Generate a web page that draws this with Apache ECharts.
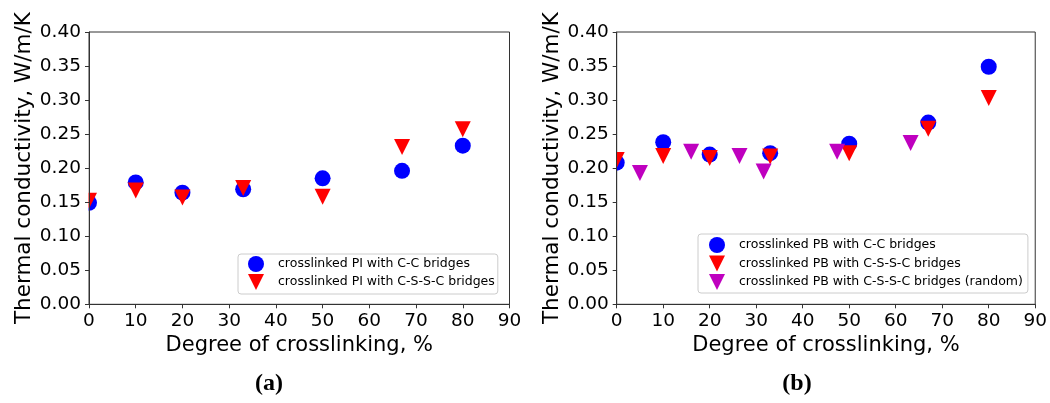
<!DOCTYPE html>
<html>
<head>
<meta charset="utf-8">
<script src="https://cdn.jsdelivr.net/npm/echarts@6/dist/echarts.min.js"></script>
<style>
html,body{margin:0;padding:0;background:#fff;}
#c{width:1050px;height:403px;}
</style>
</head>
<body>
<div id="c"></div>
<script>
// ---- data ----
const xTicks = [0, 10, 20, 30, 40, 50, 60, 70, 80, 90];
const yTicks = [0, 0.05, 0.10, 0.15, 0.20, 0.25, 0.30, 0.35, 0.40];

const piCC_x   = [0, 10, 20, 33, 50, 67, 80];
const piCC_y   = [0.149, 0.179, 0.164, 0.169, 0.185, 0.196, 0.233];
const piCSSC_x = [0, 10, 20, 33, 50, 67, 80];
const piCSSC_y = [0.152, 0.167, 0.157, 0.171, 0.158, 0.231, 0.257];

const pbCC_x   = [0, 10, 20, 33, 50, 67, 80];
const pbCC_y   = [0.208, 0.238, 0.220, 0.222, 0.236, 0.267, 0.349];
const pbCSSC_x = [0, 10, 20, 33, 50, 67, 80];
const pbCSSC_y = [0.212, 0.218, 0.215, 0.217, 0.222, 0.258, 0.303];
const pbRand_x = [5, 16, 26.4, 31.6, 47.4, 63.2];
const pbRand_y = [0.193, 0.224, 0.218, 0.195, 0.224, 0.237];

const names = {
  piCC: 'crosslinked PI with C-C bridges',
  piCSSC: 'crosslinked PI with C-S-S-C bridges',
  pbCC: 'crosslinked PB with C-C bridges',
  pbCSSC: 'crosslinked PB with C-S-S-C bridges',
  pbRand: 'crosslinked PB with C-S-S-C bridges (random)'
};
const xName = 'Degree of crosslinking, %';
const yName = 'Thermal conductivity, W/m/K';
const captions = ['(a)', '(b)'];

// ---- helpers ----
const zip = (xs, ys) => xs.map((x, i) => [x, ys[i]]);
const TRI = 'path://M0,0L2,0L1,2Z';
const FONT = 'DejaVu Sans';
const AX = '#333';

function xAxis(gi) {
  return {
    gridIndex: gi, type: 'value', min: 0, max: 90, interval: 10, z: 3,
    name: xName, nameLocation: 'middle', nameGap: 30,
    nameTextStyle: {fontFamily: FONT, fontSize: 21, color: '#000'},
    axisLine: {show: true, lineStyle: {color: AX, width: 1}},
    axisTick: {show: true, inside: false, length: 4, lineStyle: {color: AX}},
    axisLabel: {margin: 7, fontFamily: FONT, fontSize: 18.5, color: '#000'},
    splitLine: {show: false}
  };
}
function yAxis(gi) {
  return {
    gridIndex: gi, type: 'value', min: 0, max: 0.4, interval: 0.05, z: 3,
    name: yName, nameLocation: 'middle', nameGap: 52,
    nameTextStyle: {fontFamily: FONT, fontSize: 21.5, color: '#000'},
    axisLine: {show: true, lineStyle: {color: AX, width: 1}},
    axisTick: {show: true, inside: false, length: 4, lineStyle: {color: AX}},
    axisLabel: {margin: 8, fontFamily: FONT, fontSize: 18.5, color: '#000',
      formatter: v => v.toFixed(2)},
    splitLine: {show: false}
  };
}
function sc(name, data, gi, sym, color) {
  return {
    type: 'scatter', name, data, xAxisIndex: gi, yAxisIndex: gi,
    symbol: sym, symbolSize: 16, itemStyle: {color, opacity: 1},
    emphasis: {disabled: true}, z: 2
  };
}
function legend(items, left, top, pad, gap) {
  return {
    orient: 'vertical', left, top, padding: pad, itemGap: gap,
    itemWidth: 16, itemHeight: 16,
    backgroundColor: '#fff', borderColor: '#ccc', borderWidth: 1, borderRadius: 3,
    textStyle: {fontFamily: FONT, fontSize: 12.5, color: '#000', padding: [0, 0, 0, 9]},
    selectedMode: false,
    data: items
  };
}

const chart = echarts.init(document.getElementById('c'), null, {renderer: 'canvas'});
chart.setOption({
  animation: false,
  backgroundColor: '#fff',
  grid: [
    {left: 89, top: 32, width: 420.5, height: 272.3, show: true, borderColor: AX, borderWidth: 1, backgroundColor: 'transparent'},
    {left: 616.7, top: 32, width: 420, height: 272.3, show: true, borderColor: AX, borderWidth: 1, backgroundColor: 'transparent'}
  ],
  xAxis: [xAxis(0), xAxis(1)],
  yAxis: [yAxis(0), yAxis(1)],
  legend: [
    legend([{name: names.piCC, icon: 'circle'}, {name: names.piCSSC, icon: TRI}], 238, 254, [2, 3, 4, 10], 2),
    legend([{name: names.pbCC, icon: 'circle'}, {name: names.pbCSSC, icon: TRI}, {name: names.pbRand, icon: TRI}], 698, 234, [3, 5, 3, 11], 2.5)
  ],
  graphic: [
    {type: 'rect', z: 2.5, shape: {x: 60, y: 120, width: 28.5, height: 120}, style: {fill: '#fff'}, silent: true},
    {type: 'rect', z: 2.5, shape: {x: 590, y: 120, width: 26.2, height: 120}, style: {fill: '#fff'}, silent: true},
    {type: 'text', z: 5, style: {text: captions[0], x: 269, y: 384, fontFamily: 'Liberation Serif', fontWeight: 'bold', fontSize: 24, fill: '#000', textAlign: 'center', textVerticalAlign: 'middle'}},
    {type: 'text', z: 5, style: {text: captions[1], x: 797, y: 384, fontFamily: 'Liberation Serif', fontWeight: 'bold', fontSize: 24, fill: '#000', textAlign: 'center', textVerticalAlign: 'middle'}}
  ],
  series: [
    sc(names.piCC, zip(piCC_x, piCC_y), 0, 'circle', '#0000ff'),
    sc(names.piCSSC, zip(piCSSC_x, piCSSC_y), 0, TRI, '#ff0000'),
    sc(names.pbCC, zip(pbCC_x, pbCC_y), 1, 'circle', '#0000ff'),
    sc(names.pbCSSC, zip(pbCSSC_x, pbCSSC_y), 1, TRI, '#ff0000'),
    sc(names.pbRand, zip(pbRand_x, pbRand_y), 1, TRI, '#bf00bf')
  ]
});
</script>
</body>
</html>
